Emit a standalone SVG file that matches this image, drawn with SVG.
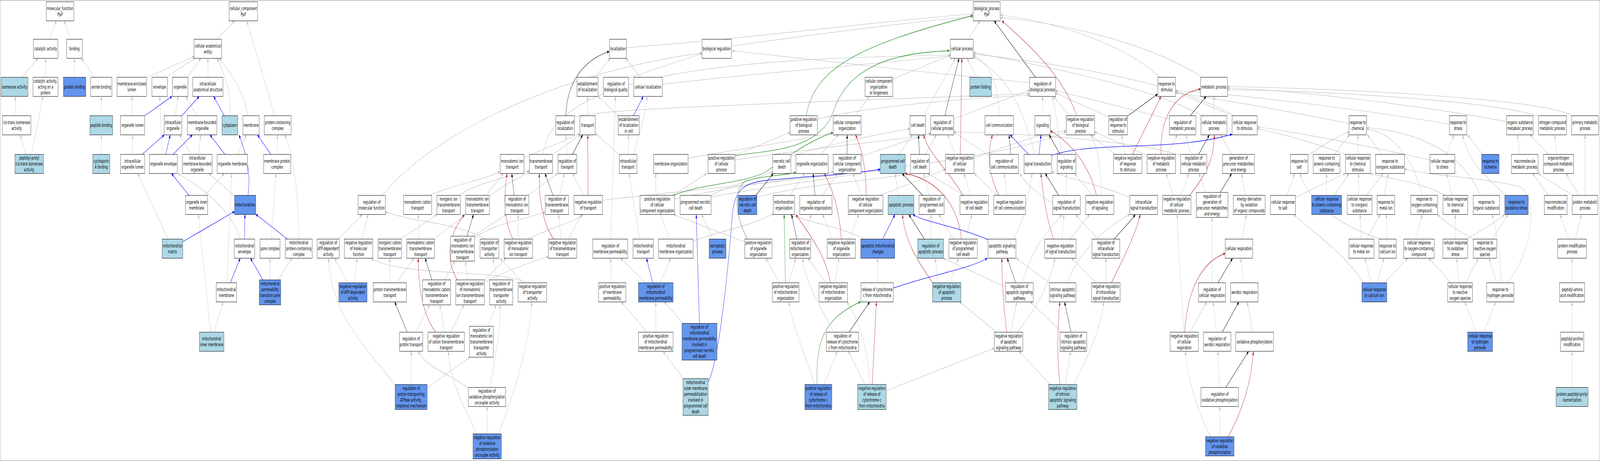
<svg xmlns="http://www.w3.org/2000/svg" width="7519" height="1181" viewBox="0 0 7519 1181" preserveAspectRatio="none">
<style>
svg{width:100vw;height:100vh}
rect{stroke:#000;stroke-width:1}
.w{fill:#fff}.l{fill:#add8e6}.c{fill:#6495ed}
text{font-family:"DejaVu Sans","Liberation Sans",sans-serif;font-size:13px;text-anchor:middle;fill:#000}
.e{fill:none;stroke:#c0c0c0;stroke-width:1.2;marker-end:url(#mg)}
.k{fill:none;stroke:#000;stroke-width:1.2;marker-end:url(#mk)}
.r{fill:none;stroke:#b22222;stroke-width:1.3;marker-end:url(#mr)}
.b{fill:none;stroke:#0000ff;stroke-width:1.3;marker-end:url(#mb)}
.g{fill:none;stroke:#228b22;stroke-width:1.3;marker-end:url(#mgr)}
</style>
<defs>
<marker id="mg" markerWidth="10" markerHeight="8" refX="9.5" refY="4" orient="auto" markerUnits="userSpaceOnUse"><path d="M0,0L10,4L0,8z" fill="#c0c0c0"/></marker>
<marker id="mk" markerWidth="10" markerHeight="8" refX="9.5" refY="4" orient="auto" markerUnits="userSpaceOnUse"><path d="M0,0L10,4L0,8z" fill="#000"/></marker>
<marker id="mr" markerWidth="10" markerHeight="8" refX="9.5" refY="4" orient="auto" markerUnits="userSpaceOnUse"><path d="M0,0L10,4L0,8z" fill="#b22222"/></marker>
<marker id="mb" markerWidth="10" markerHeight="8" refX="9.5" refY="4" orient="auto" markerUnits="userSpaceOnUse"><path d="M0,0L10,4L0,8z" fill="#0000ff"/></marker>
<marker id="mgr" markerWidth="10" markerHeight="8" refX="9.5" refY="4" orient="auto" markerUnits="userSpaceOnUse"><path d="M0,0L10,4L0,8z" fill="#228b22"/></marker>
</defs>
<rect x="0" y="0" width="7519" height="1181" fill="#fff" stroke="none"/>
<g id="connectors">
<path class="e" d="M232,100.5L265,53.5"/>
<path class="e" d="M332,100.5L302,53.5"/>
<path class="e" d="M104,198L178,149.5"/>
<path class="e" d="M214.5,198L214.5,149.5"/>
<path class="e" d="M350,198L350,149.5"/>
<path class="e" d="M444,198L384,149.5"/>
<path class="e" d="M75,296.5L71,247"/>
<path class="e" d="M476,296.5L476,247"/>
<path class="e" d="M122,395.5L95,345.5"/>
<path class="e" d="M148,395.5L202,247"/>
<path class="e" d="M476,395.5L476,345.5"/>
<path class="e" d="M1019,100.5L1102,53.5"/>
<path class="e" d="M1291,296.5L1160,53.5"/>
<path class="e" d="M691,198L913,144"/>
<path class="e" d="M782,198L916,149"/>
<path class="e" d="M880,198L944,149.5"/>
<path class="e" d="M977,198L977,149.5"/>
<path class="e" d="M1081,296.5C1085,230 1050,180 1019,149.5"/>
<path class="e" d="M1165,296.5C1140,220 1070,180 1029,149.5"/>
<path class="e" d="M622,296.5L620,247"/>
<path class="e" d="M822,296.5L838,247"/>
<path class="e" d="M924,296.5L874,247"/>
<path class="e" d="M623,395.5L623,345.5"/>
<path class="e" d="M762,395.5L751,247"/>
<path class="e" d="M898,395.5L844,345.5"/>
<path class="e" d="M932,395.5L943,345.5"/>
<path class="e" d="M1115,395.5L1157,345.5"/>
<path class="e" d="M1303,395.5L1304.5,345.5"/>
<path class="e" d="M1099,500.5L982,444.5"/>
<path class="e" d="M963,500.5L1053,444.5"/>
<path class="e" d="M790,612.5L647,444.5"/>
<path class="e" d="M1129,612.5C1090,540 950,480 836,444.5"/>
<path class="e" d="M1066,724.5L1089,444.5"/>
<path class="e" d="M1006,851L1049,773.5"/>
<path class="e" d="M990,851L932,549.5"/>
<path class="e" d="M1269,717L1269,661.5"/>
<path class="e" d="M1308,717L1372,661.5"/>
<path class="e" d="M1274,612.5L1297,444.5"/>
<path class="e" d="M1406,612.5C1400,480 1380,400 1338,345.5"/>
<path class="e" d="M1797,500.5C2100,300 2800,170 3298,136"/>
<path class="e" d="M1589,612.5L1702,549.5"/>
<path class="e" d="M1700,612.5L1730,549.5"/>
<path class="e" d="M2280,612.5C2150,570 1950,570 1811,543"/>
<path class="e" d="M2470,724.5C2380,690 1900,710 1746,663"/>
<path class="e" d="M1633,724.5L1573,661.5"/>
<path class="e" d="M1665,724.5L1678,661.5"/>
<path class="e" d="M1884,612.5L2053,549.5"/>
<path class="e" d="M1970,612.5L1965,549.5"/>
<path class="e" d="M2040,612.5L2188,549.5"/>
<path class="e" d="M1832,724.5L1832,661.5"/>
<path class="e" d="M1864,724.5L1945,661.5"/>
<path class="e" d="M2089,717L2138,669"/>
<path class="e" d="M2199,717L2187,669"/>
<path class="e" d="M2277,717L2378,661.5"/>
<path class="e" d="M2277,722C2400,690 2500,670 2577,657"/>
<path class="e" d="M2228,612C2300,575 2450,565 2562,543"/>
<path class="e" d="M2222,605L2380,549.5"/>
<path class="e" d="M2338,717L2316,661.5"/>
<path class="e" d="M2460,724.5L2350,661.5"/>
<path class="e" d="M2435,612.5L2435,549.5"/>
<path class="e" d="M2480,612.5C2600,580 2700,570 2740,549.5"/>
<path class="e" d="M2482,500.5L2620,444.5"/>
<path class="e" d="M2018,500.5C2150,470 2280,460 2349,440"/>
<path class="e" d="M2283,500.5L2366,444.5"/>
<path class="e" d="M2300,502C2380,470 2440,455 2488,441"/>
<path class="e" d="M2158,500.5C2230,470 2380,455 2488,437"/>
<path class="e" d="M2463,405C2560,380 2660,360 2725,342"/>
<path class="e" d="M2598,395.5L2728,345"/>
<path class="e" d="M2552,395.5C2600,180 3500,150 4466,141"/>
<path class="e" d="M2665,395.5L2659,345.5"/>
<path class="e" d="M2701,300C2800,280 3400,270 4838,240"/>
<path class="e" d="M2761,296.5L2761,247"/>
<path class="e" d="M2905,296.5L2812,247"/>
<path class="e" d="M2953,395.5L2953,345.5"/>
<path class="e" d="M2908,395.5L2798,342"/>
<path class="e" d="M2979,395.5C3010,330 3035,290 3041,247"/>
<path class="e" d="M2797,198L2867,149.5"/>
<path class="e" d="M3009,198L2942,149.5"/>
<path class="e" d="M2954,200L3299,137"/>
<path class="e" d="M2944,122C3500,100 4200,50 4574,36"/>
<path class="e" d="M3437,118C3800,90 4300,55 4574,42"/>
<path class="e" d="M3112,216C3500,190 4000,170 4466,143"/>
<path class="e" d="M2630,500.5L2652,444.5"/>
<path class="e" d="M2742,500.5L2691,444.5"/>
<path class="e" d="M2831,513C3500,470 4700,420 5010,337"/>
<path class="e" d="M2637.6,612.5L2624,549.5"/>
<path class="e" d="M2670,612.5L2733.5,549.5"/>
<path class="e" d="M1953,851L2020,781"/>
<path class="e" d="M2088.6,851L2067,781"/>
<path class="e" d="M2119,851L2180,781"/>
<path class="e" d="M2293.5,836L2332,781"/>
<path class="e" d="M1856,985C1700,880 1555,800 1544,661.5"/>
<path class="e" d="M1933,985L1933,900"/>
<path class="e" d="M2008,994L2208,915"/>
<path class="e" d="M2201,994C2120,960 2000,940 1965,900"/>
<path class="e" d="M2303,992.5C2330,900 2352,850 2350,781"/>
<path class="e" d="M2289.5,1111.5L2289.5,1041.5"/>
<path class="e" d="M2241,1111.5C2180,1040 2115,980 2107,900"/>
<path class="e" d="M2342,1111.5C2420,1000 2490,880 2499,773.5"/>
<path class="e" d="M3234,405C3500,380 3750,360 3915,340"/>
<path class="e" d="M3454,398L3713,339"/>
<path class="e" d="M3454,410C3800,380 4200,360 4374,344"/>
<path class="e" d="M3163,500.5L3321,444.5"/>
<path class="e" d="M3170,510C3500,470 3800,455 3915.5,440"/>
<path class="e" d="M3150,612.5C3110,570 3070,500 3083,444.5"/>
<path class="e" d="M3257,617C3400,590 3550,575 3636,547"/>
<path class="e" d="M3349,612.5L3298,549.5"/>
<path class="e" d="M3341,500.5C3450,470 3550,460 3631,440"/>
<path class="e" d="M3330,505C3700,470 4000,450 4137,437"/>
<path class="e" d="M3557,505C3800,470 4150,460 4281,444.5"/>
<path class="e" d="M3712,500.5L3781,444.5"/>
<path class="e" d="M3500,620L3165,549.5"/>
<path class="e" d="M3662.6,724.5L3598.6,661.5"/>
<path class="e" d="M3708,724.5L3739,661.5"/>
<path class="e" d="M3006,612.5L2956,444.5"/>
<path class="e" d="M3033,724.5L2917,661.5"/>
<path class="e" d="M3102,724.5L3152,661.5"/>
<path class="e" d="M2874.5,724.5L2869.6,661.5"/>
<path class="e" d="M3041,851L2920,773.5"/>
<path class="e" d="M3082,851L3082,773.5"/>
<path class="e" d="M3210,828.5L3122,773.5"/>
<path class="e" d="M3210,970L3116,900"/>
<path class="e" d="M2870,612.5L2892,247"/>
<path class="e" d="M4060,612.5C3950,580 3800,570 3712,549.5"/>
<path class="e" d="M4550.5,100.5L4605.6,53.5"/>
<path class="e" d="M5450,198C5300,120 5000,60 4702,38"/>
<path class="e" d="M5650,198C5400,110 5000,60 4702,45"/>
<path class="e" d="M4195.7,203L4466,141"/>
<path class="e" d="M4590,198L4545,149.5"/>
<path class="e" d="M4019,296.5L4085,247"/>
<path class="e" d="M4340,296.5L4490,149.5"/>
<path class="e" d="M4481.6,305L4838,231"/>
<path class="e" d="M4696,296.5C4690,200 4640,160 4574,142"/>
<path class="e" d="M4899.6,296.5L4899.6,247"/>
<path class="e" d="M4862,395.5C4800,250 4700,180 4574,146"/>
<path class="e" d="M5025,296.5L4952,247"/>
<path class="e" d="M5210,300L4961,238"/>
<path class="e" d="M5495,305L4961,232"/>
<path class="e" d="M3841,305C4100,270 4600,250 4838,244"/>
<path class="e" d="M5705,296.5L5705,247"/>
<path class="e" d="M5792,297L5525,235"/>
<path class="e" d="M5790,395.5L5736,345.5"/>
<path class="e" d="M5596,395.5L5573,345.5"/>
<path class="e" d="M5484,395.5L5533,345.5"/>
<path class="e" d="M5391,398L5144.4,338"/>
<path class="e" d="M5288,395.5L5270,345.5"/>
<path class="e" d="M5240,395.5L5125,345.5"/>
<path class="e" d="M4990,395.5C4975,330 4960,290 4945,247"/>
<path class="e" d="M5132,500.5L5051,444.5"/>
<path class="e" d="M5173,500.5C5178,440 5160,380 5128,345.5"/>
<path class="e" d="M5012,500.5L5012,444.5"/>
<path class="e" d="M4990,612.5L5000,549.5"/>
<path class="e" d="M5030,612.5L5120,549.5"/>
<path class="e" d="M5157,612.5C5130,590 5080,570 5055,549.5"/>
<path class="e" d="M5197,724.5L5197,661.5"/>
<path class="e" d="M5150,724.5L5036,661.5"/>
<path class="e" d="M5309,505C5150,470 5000,455 4942,440"/>
<path class="e" d="M5017,724.5C5060,650 5200,580 5309,549.5"/>
<path class="e" d="M4931,724.5L4776,661.5"/>
<path class="e" d="M4990,851L4842,773.5"/>
<path class="e" d="M5006,985L5031,900"/>
<path class="e" d="M5047,985C5120,900 5170,850 5187,773.5"/>
<path class="e" d="M4935,985L4789,900"/>
<path class="e" d="M4682.5,851L4510,773.5"/>
<path class="e" d="M4751,851L4777.7,773.5"/>
<path class="e" d="M4781,851C4870,790 4940,720 4957,661.5"/>
<path class="e" d="M4725,735L4433,661.5"/>
<path class="e" d="M4806,724.5C4850,630 4930,590 4990,549.5"/>
<path class="e" d="M4410,724.5L4394,661.5"/>
<path class="e" d="M4466,724.5L4504,661.5"/>
<path class="e" d="M4123,724.5L4124,661.5"/>
<path class="e" d="M3919,851C3850,780 3780,720 3773,661.5"/>
<path class="e" d="M3872,985L3935,900"/>
<path class="e" d="M3827,985C3780,900 3720,830 3708,773.5"/>
<path class="e" d="M4064,985L3987,900"/>
<path class="e" d="M4090,985C4075,900 4050,830 3980,773.5"/>
<path class="e" d="M4164,1001L4672,892"/>
<path class="e" d="M3922.7,724.5L3943,661.5"/>
<path class="e" d="M3882,724.5L3797,661.5"/>
<path class="e" d="M3777,612.5L3813,549.5"/>
<path class="e" d="M3910,612.5L3866,549.5"/>
<path class="e" d="M3992,612.5L4036,549.5"/>
<path class="e" d="M3866,500.5L3935,444.5"/>
<path class="e" d="M4048,500.5L4008,444.5"/>
<path class="e" d="M4137,500.5L4443,434"/>
<path class="e" d="M4046.7,400L4374,340"/>
<path class="e" d="M3856,395.5L3939,345.5"/>
<path class="e" d="M4225,395.5L4288,345.5"/>
<path class="e" d="M4348,395.5L4400,345.5"/>
<path class="e" d="M4490,395.5L4453,345.5"/>
<path class="e" d="M4577,405C4750,370 4900,340 5010,335"/>
<path class="e" d="M4652.6,400L4482,338"/>
<path class="e" d="M4225,500.5L4206,444.5"/>
<path class="e" d="M4366,500.5L4340,444.5"/>
<path class="e" d="M4530,500.5L4360,444.5"/>
<path class="e" d="M4562,500.5L4530,444.5"/>
<path class="e" d="M4373,612.5L4376,549.5"/>
<path class="e" d="M4480,612.5L4413,549.5"/>
<path class="e" d="M4538,612.5L4567,549.5"/>
<path class="e" d="M4762,612.5C4800,580 4830,520 4850,444.5"/>
<path class="e" d="M4730,500.5L4720,444.5"/>
<path class="e" d="M4684,500.5L4579,444.5"/>
<path class="e" d="M4946,520C4880,500 4820,470 4793,444.5"/>
<path class="e" d="M5513,500.5L5480,444.5"/>
<path class="e" d="M5549,500.5L5586,444.5"/>
<path class="e" d="M5669,493L5634,444.5"/>
<path class="e" d="M5853,500.5L5835,444.5"/>
<path class="e" d="M5837,612.5L5857,549.5"/>
<path class="e" d="M5695,724.5L5695,557"/>
<path class="e" d="M5842.6,724.5L5830.5,661.5"/>
<path class="e" d="M5592,851L5671,773.5"/>
<path class="e" d="M5562,851C5555,750 5535,650 5533,549.5"/>
<path class="e" d="M5715.5,851L5701.6,773.5"/>
<path class="e" d="M5887,851L5861,773.5"/>
<path class="e" d="M5730,992.5L5723.5,900"/>
<path class="e" d="M5732,1119L5732,1041.5"/>
<path class="e" d="M5691,1119C5620,1050 5580,960 5571,900"/>
<path class="e" d="M5800,296.5C5500,200 4900,160 4574,138"/>
<path class="e" d="M5650,296.5C5400,220 4900,170 4574,134"/>
<path class="e" d="M6339,316C6000,280 5700,250 5525,238"/>
<path class="e" d="M6810,318C6400,280 5800,240 5525,232"/>
<path class="e" d="M7080,312C6800,280 6100,230 5768,226"/>
<path class="e" d="M7230,298C7000,255 6100,230 5768,230"/>
<path class="e" d="M7390,297C7250,250 6200,225 5768,222"/>
<path class="e" d="M7142,395.5L7131,345.5"/>
<path class="e" d="M7278,395.5L7190,345.5"/>
<path class="e" d="M7316,395.5L7306,345.5"/>
<path class="e" d="M7449,500.5L7449,345.5"/>
<path class="e" d="M7392,500.5L7228,444.5"/>
<path class="e" d="M7420,500.5L7360,444.5"/>
<path class="e" d="M7277,500.5L7202,444.5"/>
<path class="e" d="M7371,612.5L7331,549.5"/>
<path class="e" d="M7403,612.5L7432,549.5"/>
<path class="e" d="M7387.8,724.5L7387.8,661.5"/>
<path class="e" d="M7387.8,851L7387.8,773.5"/>
<path class="e" d="M7387.8,992.5L7387.8,900"/>
<path class="e" d="M6381,395.5L6381,345.5"/>
<path class="e" d="M6323,396C6150,360 6000,340 5908,330"/>
<path class="e" d="M6720,410C6400,370 6100,340 5908,325"/>
<path class="e" d="M6797,395.5L6833,345.5"/>
<path class="e" d="M6271.5,395.5L6341,345.5"/>
<path class="e" d="M6494,395.5L6425,345.5"/>
<path class="e" d="M6147,398C6220,370 6300,345 6339,338"/>
<path class="e" d="M6967,395.5L6896.5,345.5"/>
<path class="e" d="M6957,500.5C6880,400 6700,340 6423,327"/>
<path class="e" d="M7075,500.5C7000,460 6900,420 6873,345.5"/>
<path class="e" d="M6684,500.5C6650,420 6560,340 6423,331"/>
<path class="e" d="M6385,500.5L6385,444.5"/>
<path class="e" d="M6423,500.5L6499,444.5"/>
<path class="e" d="M6269,500.5L6339,444.5"/>
<path class="e" d="M6233.6,500.5L6233.6,444.5"/>
<path class="e" d="M6047.6,500.5L6084,444.5"/>
<path class="e" d="M6088,507C6180,480 6260,460 6322.5,444.5"/>
<path class="e" d="M6410,724.5C6300,640 6180,600 6080,549.5"/>
<path class="e" d="M6490,612.5C6300,580 6150,520 6110,444.5"/>
<path class="e" d="M6505,500.5L6525,444.5"/>
<path class="e" d="M6824,500.5L6797,444.5"/>
<path class="e" d="M6789,500.5C6700,470 6550,460 6439.5,444.5"/>
<path class="e" d="M6839,612.5L6839,549.5"/>
<path class="e" d="M6894,612.5C6960,590 7030,570 7070,549.5"/>
<path class="e" d="M7012,612.5L7087,549.5"/>
<path class="e" d="M6923,612.5C6850,590 6790,570 6756,549.5"/>
<path class="e" d="M6651.7,612.5L6684,549.5"/>
<path class="e" d="M6395,612.5L6392,549.5"/>
<path class="e" d="M6421,612.5L6486,549.5"/>
<path class="e" d="M6518,612.5L6515,549.5"/>
<path class="e" d="M6444,724.5L6414.5,661.5"/>
<path class="e" d="M6473,724.5L6503,661.5"/>
<path class="e" d="M6504.5,724.5L6616,661.5"/>
<path class="e" d="M6818,724.5L6715,661.5"/>
<path class="e" d="M6856,724.5L6846,661.5"/>
<path class="e" d="M6888,724.5L6947,661.5"/>
<path class="e" d="M7034,724.5L6997.5,661.5"/>
<path class="e" d="M7054,724.5C7054,650 7030,590 7012,549.5"/>
<path class="e" d="M7082,724.5C7200,650 7230,520 7150,480C7000,455 6700,450 6600,433"/>
<path class="e" d="M6937,851L6884,773.5"/>
<path class="e" d="M6974,851L7028.6,773.5"/>
<path class="e" d="M3717,400C3900,370 4150,340 4276,330"/>
<path class="e" d="M4838,212C4400,190 3800,150 3442,130"/>
<path class="e" d="M5548,398C5300,355 4700,340 4482,338"/>
<path class="k" d="M2030,717L1998,661.5"/>
<path class="k" d="M2194.6,605L2225,549.5"/>
<path class="k" d="M2416,500.5L2405,444.5"/>
<path class="k" d="M2690,395.5L2738,345.5"/>
<path class="k" d="M2659,296.5C2665,200 2760,150 2863,132"/>
<path class="k" d="M2599,500.5L2561,444.5"/>
<path class="k" d="M1913,851L1855,773.5"/>
<path class="k" d="M3551.6,500.5L3634,444.5"/>
<path class="k" d="M3744.5,612.5L3720,549.5"/>
<path class="k" d="M4866,198L4672,53.5"/>
<path class="k" d="M4440,296.5L4507,149.5"/>
<path class="k" d="M5300,297L5440,241"/>
<path class="k" d="M5594,296.5L5668,247"/>
<path class="k" d="M5633,395.5L5683,345.5"/>
<path class="k" d="M4982,395.5L4930,345.5"/>
<path class="k" d="M4975,500.5L4912,444.5"/>
<path class="k" d="M5236,612.5C5270,590 5310,570 5335,549.5"/>
<path class="k" d="M5033,851L5002.6,773.5"/>
<path class="k" d="M4773.6,724.5L4733,661.5"/>
<path class="k" d="M3990,851L4087,773.5"/>
<path class="k" d="M3830,500.5L3821.5,444.5"/>
<path class="k" d="M3981,395.5L3981,345.5"/>
<path class="k" d="M4321,395.5L4316,345.5"/>
<path class="k" d="M4750,395.5L4742,345.5"/>
<path class="k" d="M4336,500.5L4240,444.5"/>
<path class="k" d="M4344,612.5L4271,549.5"/>
<path class="k" d="M5734,493L5788,444.5"/>
<path class="k" d="M5723.5,724.5L5792.4,661.5"/>
<path class="k" d="M5743.8,851L5822,773.5"/>
<path class="k" d="M5760,992.5L5867.7,900"/>
<path class="r" d="M2148,717C2090,660 2110,600 2182,549.5"/>
<path class="r" d="M2410,612.5C2380,580 2360,520 2383,444.5"/>
<path class="r" d="M2763.5,500.5L2762,345.5"/>
<path class="r" d="M2601.5,612.5C2560,580 2530,520 2535,444.5"/>
<path class="r" d="M2046.6,851C1980,800 1965,720 1965.5,661.5"/>
<path class="r" d="M3902.5,724.5C3880,650 3790,590 3740,549.5"/>
<path class="r" d="M5060,296.5C5000,200 4850,120 4708,53.5"/>
<path class="r" d="M4513,395.5L4520,149.5"/>
<path class="r" d="M5322,395.5L5456,247"/>
<path class="r" d="M5456,395.5C5450,300 5520,240 5642.5,228"/>
<path class="r" d="M5152,500.5C5130,440 5050,370 4936,335"/>
<path class="r" d="M4950,612.5C4920,560 4900,500 4892,444.5"/>
<path class="r" d="M5223,724.5C5280,660 5330,610 5359,549.5"/>
<path class="r" d="M4982,985C4965,920 4970,830 4981,773.5"/>
<path class="r" d="M4731,851C4715,780 4708,720 4708,661.5"/>
<path class="r" d="M4383,724.5C4300,660 4250,610 4241,549.5"/>
<path class="r" d="M4099,985L4118.7,773.5"/>
<path class="r" d="M3953,612.5C3950,560 3920,490 3874,444.5"/>
<path class="r" d="M4071,500.5C4070,430 4050,380 4020,345.5"/>
<path class="r" d="M4525,500.5C4450,430 4370,400 4340,345.5"/>
<path class="r" d="M4518,612.5C4500,520 4400,460 4254,444.5"/>
<path class="r" d="M4694,500.5C4640,440 4640,390 4664,345.5"/>
<path class="r" d="M5590,500.5C5680,440 5705,400 5707,345.5"/>
<path class="r" d="M5567,851C5580,740 5650,670 5758,649"/>
<path class="r" d="M5772,1119C5840,1050 5880,980 5890,900"/>
<path class="b" d="M680,296.5L808,247"/>
<path class="b" d="M854,296.5L936,247"/>
<path class="b" d="M1054,296.5L1004,247"/>
<path class="b" d="M668,395.5L772,345.5"/>
<path class="b" d="M779,395.5L800,345.5"/>
<path class="b" d="M813,395.5L904,345.5"/>
<path class="b" d="M1057,395.5L987,345.5"/>
<path class="b" d="M1273,395.5L1210,345.5"/>
<path class="b" d="M1165,500.5C1185,430 1140,370 1123,345.5"/>
<path class="b" d="M888,500.5L806,444.5"/>
<path class="b" d="M859,619L1102,542"/>
<path class="b" d="M1149,612.5L1151,549.5"/>
<path class="b" d="M1082,724.5L1129,661.5"/>
<path class="b" d="M1235,717L1177,661.5"/>
<path class="b" d="M1351,612.5L1202,549"/>
<path class="b" d="M2977,296.5L3023,247"/>
<path class="b" d="M3287,828.5L3272,549.5"/>
<path class="b" d="M3068,724.5L3038,661.5"/>
<path class="b" d="M3329,978C3380,920 3420,700 3440,560C3450,480 3500,470 3600,462C3800,452 4000,446 4137,434"/>
<path class="b" d="M4198,738C4400,700 4550,690 4640,661.5"/>
<path class="b" d="M4833,395.5L4747,345.5"/>
<path class="b" d="M4883,395.5L4892,345.5"/>
<path class="b" d="M4942,398C5150,360 5500,390 5790,344"/>
<path class="b" d="M4644,614C4500,580 4350,570 4290,549.5"/>
<path class="b" d="M4148,612.5L4206,549.5"/>
<path class="g" d="M3454,398C3650,385 3860,380 3920,280C3990,170 4200,135 4462,130"/>
<path class="g" d="M3163,500.5C3300,470 3500,470 3600,440C3750,380 3850,350 3915,340"/>
<path class="g" d="M3513,612.5C3460,560 3440,490 3500,465C3580,450 3680,450 3740,442"/>
<path class="g" d="M3691,724.5L3685,549.5"/>
<path class="g" d="M3787.5,296.5C3830,180 4000,120 4571,40"/>
<path class="g" d="M3840,985C3835,880 3860,820 4044,773"/>
</g>
<g id="n1"><rect class="w" x="217" y="4.5" width="130" height="49"/><text x="282" y="26">molecular_function<tspan x="282" dy="15">Ppif</tspan></text></g>
<g id="n2"><rect class="w" x="1077" y="4.5" width="133" height="49"/><text x="1143.5" y="26">cellular_component<tspan x="1143.5" dy="15">Ppif</tspan></text></g>
<g id="n3"><rect class="w" x="4574" y="4.5" width="126" height="49"/><text x="4637" y="26">biological_process<tspan x="4637" dy="15">Ppif</tspan></text></g>
<g id="n4"><rect class="w" x="157" y="100.5" width="115" height="49"/><text x="214.5" y="129.5">catalytic activity</text></g>
<g id="n5"><rect class="w" x="313.5" y="100.5" width="73" height="49"/><text x="350" y="129.5">binding</text></g>
<g id="n6"><rect class="w" x="912" y="100.5" width="130" height="49"/><text x="977" y="122">cellular anatomical<tspan x="977" dy="15">entity</tspan></text></g>
<g id="n7"><rect class="w" x="2864" y="100.5" width="80" height="49"/><text x="2904" y="129.5">localization</text></g>
<g id="n8"><rect class="w" x="3299" y="100.5" width="138" height="49"/><text x="3368" y="129.5">biological regulation</text></g>
<g id="n9"><rect class="w" x="4466" y="100.5" width="108" height="49"/><text x="4520" y="129.5">cellular process</text></g>
<g id="n10"><rect class="l" x="5" y="198" width="126" height="49"/><text x="68" y="227">isomerase activity</text></g>
<g id="n11"><rect class="w" x="155" y="198" width="118" height="49"/><text x="214" y="212">catalytic activity,<tspan x="214" dy="15">acting on a</tspan><tspan x="214" dy="15">protein</tspan></text></g>
<g id="n12"><rect class="c" x="298" y="198" width="105" height="49"/><text x="350.5" y="227">protein binding</text></g>
<g id="n13"><rect class="w" x="426" y="198" width="100" height="49"/><text x="476" y="227">amide binding</text></g>
<g id="n14"><rect class="w" x="550" y="198" width="139" height="49"/><text x="619.5" y="219.5">membrane-enclosed<tspan x="619.5" dy="15">lumen</tspan></text></g>
<g id="n15"><rect class="w" x="714" y="198" width="72" height="49"/><text x="750" y="227">envelope</text></g>
<g id="n16"><rect class="w" x="810" y="198" width="73" height="49"/><text x="846.5" y="227">organelle</text></g>
<g id="n17"><rect class="w" x="906" y="198" width="142" height="49"/><text x="977" y="219.5">intracellular<tspan x="977" dy="15">anatomical structure</tspan></text></g>
<g id="n18"><rect class="w" x="2711.5" y="198" width="99" height="49"/><text x="2761" y="219.5">establishment<tspan x="2761" dy="15">of localization</tspan></text></g>
<g id="n19"><rect class="w" x="2835.7" y="198" width="118" height="49"/><text x="2894.7" y="219.5">regulation of<tspan x="2894.7" dy="15">biological quality</tspan></text></g>
<g id="n20"><rect class="w" x="2978" y="198" width="134" height="49"/><text x="3045" y="227">cellular localization</text></g>
<g id="n21"><rect class="w" x="4065" y="198" width="130" height="49"/><text x="4130" y="212">cellular component<tspan x="4130" dy="15">organization</tspan><tspan x="4130" dy="15">or biogenesis</tspan></text></g>
<g id="n22"><rect class="l" x="4557" y="198" width="102" height="49"/><text x="4608" y="227">protein folding</text></g>
<g id="n23"><rect class="w" x="4838" y="198" width="123" height="49"/><text x="4899.5" y="219.5">regulation of<tspan x="4899.5" dy="15">biological process</tspan></text></g>
<g id="n24"><rect class="w" x="5441" y="198" width="83" height="49"/><text x="5482.5" y="219.5">response to<tspan x="5482.5" dy="15">stimulus</tspan></text></g>
<g id="n25"><rect class="w" x="5642.5" y="198" width="125.5" height="49"/><text x="5705" y="227">metabolic process</text></g>
<g id="n26"><rect class="w" x="11" y="296.5" width="134" height="49"/><text x="78" y="318">cis-trans isomerase<tspan x="78" dy="15">activity</tspan></text></g>
<g id="n27"><rect class="l" x="422.5" y="296.5" width="107" height="49"/><text x="476" y="325.5">peptide binding</text></g>
<g id="n28"><rect class="w" x="566.5" y="296.5" width="113" height="49"/><text x="623" y="325.5">organelle lumen</text></g>
<g id="n29"><rect class="w" x="771.5" y="296.5" width="83" height="49"/><text x="813" y="318">intracellular<tspan x="813" dy="15">organelle</tspan></text></g>
<g id="n30"><rect class="w" x="880" y="296.5" width="139" height="49"/><text x="949.5" y="318">membrane-bounded<tspan x="949.5" dy="15">organelle</tspan></text></g>
<g id="n31"><rect class="l" x="1043" y="296.5" width="74" height="49"/><text x="1080" y="325.5">cytoplasm</text></g>
<g id="n32"><rect class="w" x="1141.5" y="296.5" width="77" height="49"/><text x="1180" y="325.5">membrane</text></g>
<g id="n33"><rect class="w" x="1242" y="296.5" width="126" height="49"/><text x="1305" y="318">protein-containing<tspan x="1305" dy="15">complex</tspan></text></g>
<g id="n34"><rect class="w" x="2612" y="296.5" width="88" height="49"/><text x="2656" y="318">regulation of<tspan x="2656" dy="15">localization</tspan></text></g>
<g id="n35"><rect class="w" x="2725.5" y="296.5" width="72" height="49"/><text x="2761.5" y="325.5">transport</text></g>
<g id="n36"><rect class="w" x="2905" y="296.5" width="99" height="49"/><text x="2954.5" y="310.5">establishment<tspan x="2954.5" dy="15">of localization</tspan><tspan x="2954.5" dy="15">in cell</tspan></text></g>
<g id="n37"><rect class="w" x="3713" y="296.5" width="128" height="49"/><text x="3777" y="310.5">positive regulation<tspan x="3777" dy="15">of biological</tspan><tspan x="3777" dy="15">process</tspan></text></g>
<g id="n38"><rect class="w" x="3915.5" y="296.5" width="131" height="49"/><text x="3981" y="318">cellular component<tspan x="3981" dy="15">organization</tspan></text></g>
<g id="n39"><rect class="w" x="4276.5" y="296.5" width="73" height="49"/><text x="4313" y="325.5">cell death</text></g>
<g id="n40"><rect class="w" x="4374" y="296.5" width="108" height="49"/><text x="4428" y="318">regulation of<tspan x="4428" dy="15">cellular process</tspan></text></g>
<g id="n41"><rect class="w" x="4629" y="296.5" width="134" height="49"/><text x="4696" y="325.5">cell communication</text></g>
<g id="n42"><rect class="w" x="4863" y="296.5" width="73" height="49"/><text x="4899.5" y="325.5">signaling</text></g>
<g id="n43"><rect class="w" x="5011" y="296.5" width="133" height="49"/><text x="5077.5" y="310.5">negative regulation<tspan x="5077.5" dy="15">of biological</tspan><tspan x="5077.5" dy="15">process</tspan></text></g>
<g id="n44"><rect class="w" x="5210" y="296.5" width="89" height="49"/><text x="5254.5" y="310.5">regulation of<tspan x="5254.5" dy="15">response to</tspan><tspan x="5254.5" dy="15">stimulus</tspan></text></g>
<g id="n45"><rect class="w" x="5495" y="296.5" width="125" height="49"/><text x="5557.5" y="318">regulation of<tspan x="5557.5" dy="15">metabolic process</tspan></text></g>
<g id="n46"><rect class="w" x="5644" y="296.5" width="122" height="49"/><text x="5705" y="318">cellular metabolic<tspan x="5705" dy="15">process</tspan></text></g>
<g id="n47"><rect class="w" x="5790" y="296.5" width="118" height="49"/><text x="5849" y="318">cellular response<tspan x="5849" dy="15">to stimulus</tspan></text></g>
<g id="n48"><rect class="w" x="6339.5" y="296.5" width="83" height="49"/><text x="6381" y="318">response to<tspan x="6381" dy="15">chemical</tspan></text></g>
<g id="n49"><rect class="w" x="6811" y="296.5" width="82" height="49"/><text x="6852" y="318">response to<tspan x="6852" dy="15">stress</tspan></text></g>
<g id="n50"><rect class="w" x="7080" y="296.5" width="125" height="49"/><text x="7142.5" y="318">organic substance<tspan x="7142.5" dy="15">metabolic process</tspan></text></g>
<g id="n51"><rect class="w" x="7230.5" y="296.5" width="131" height="49"/><text x="7296" y="318">nitrogen compound<tspan x="7296" dy="15">metabolic process</tspan></text></g>
<g id="n52"><rect class="w" x="7386" y="296.5" width="126" height="49"/><text x="7449" y="318">primary metabolic<tspan x="7449" dy="15">process</tspan></text></g>
<g id="n53"><rect class="l" x="70" y="395.5" width="134" height="49"/><text x="137" y="409.5">peptidyl-prolyl<tspan x="137" dy="15">cis-trans isomerase</tspan><tspan x="137" dy="15">activity</tspan></text></g>
<g id="n54"><rect class="l" x="436" y="395.5" width="80" height="49"/><text x="476" y="417">cyclosporin<tspan x="476" dy="15">A binding</tspan></text></g>
<g id="n55"><rect class="w" x="566.5" y="395.5" width="113" height="49"/><text x="623" y="417">intracellular<tspan x="623" dy="15">organelle lumen</tspan></text></g>
<g id="n56"><rect class="w" x="702.5" y="395.5" width="131" height="49"/><text x="768" y="424.5">organelle envelope</text></g>
<g id="n57"><rect class="w" x="857" y="395.5" width="140" height="49"/><text x="927" y="409.5">intracellular<tspan x="927" dy="15">membrane-bounded</tspan><tspan x="927" dy="15">organelle</tspan></text></g>
<g id="n58"><rect class="w" x="1020.5" y="395.5" width="143" height="49"/><text x="1092" y="424.5">organelle membrane</text></g>
<g id="n59"><rect class="w" x="1239" y="395.5" width="127" height="49"/><text x="1302.5" y="417">membrane protein<tspan x="1302.5" dy="15">complex</tspan></text></g>
<g id="n60"><rect class="w" x="2351" y="395.5" width="112" height="49"/><text x="2407" y="417">monoatomic ion<tspan x="2407" dy="15">transport</tspan></text></g>
<g id="n61"><rect class="w" x="2488" y="395.5" width="109" height="49"/><text x="2542.5" y="417">transmembrane<tspan x="2542.5" dy="15">transport</tspan></text></g>
<g id="n62"><rect class="w" x="2622" y="395.5" width="88" height="49"/><text x="2666" y="417">regulation of<tspan x="2666" dy="15">transport</tspan></text></g>
<g id="n63"><rect class="w" x="2910" y="395.5" width="83" height="49"/><text x="2951.5" y="417">intracellular<tspan x="2951.5" dy="15">transport</tspan></text></g>
<g id="n64"><rect class="w" x="3072" y="395.5" width="162" height="49"/><text x="3153" y="424.5">membrane organization</text></g>
<g id="n65"><rect class="w" x="3327" y="395.5" width="127" height="49"/><text x="3390.5" y="409.5">positive regulation<tspan x="3390.5" dy="15">of cellular</tspan><tspan x="3390.5" dy="15">process</tspan></text></g>
<g id="n66"><rect class="w" x="3631" y="395.5" width="86" height="49"/><text x="3674" y="417">necrotic cell<tspan x="3674" dy="15">death</tspan></text></g>
<g id="n67"><rect class="w" x="3740" y="395.5" width="152" height="49"/><text x="3816" y="424.5">organelle organization</text></g>
<g id="n68"><rect class="w" x="3915.5" y="395.5" width="131" height="49"/><text x="3981" y="409.5">regulation of<tspan x="3981" dy="15">cellular component</tspan><tspan x="3981" dy="15">organization</tspan></text></g>
<g id="n69"><rect class="l" x="4137" y="395.5" width="117" height="49"/><text x="4195.5" y="417">programmed cell<tspan x="4195.5" dy="15">death</tspan></text></g>
<g id="n70"><rect class="w" x="4279" y="395.5" width="89" height="49"/><text x="4323.5" y="417">regulation of<tspan x="4323.5" dy="15">cell death</tspan></text></g>
<g id="n71"><rect class="w" x="4443" y="395.5" width="134" height="49"/><text x="4510" y="409.5">negative regulation<tspan x="4510" dy="15">of cellular</tspan><tspan x="4510" dy="15">process</tspan></text></g>
<g id="n72"><rect class="w" x="4652" y="395.5" width="134" height="49"/><text x="4719" y="417">regulation of<tspan x="4719" dy="15">cell communication</tspan></text></g>
<g id="n73"><rect class="w" x="4812" y="395.5" width="130" height="49"/><text x="4877" y="424.5">signal transduction</text></g>
<g id="n74"><rect class="w" x="4968" y="395.5" width="88" height="49"/><text x="5012" y="417">regulation of<tspan x="5012" dy="15">signaling</tspan></text></g>
<g id="n75"><rect class="w" x="5233" y="395.5" width="134" height="49"/><text x="5300" y="409.5">negative regulation<tspan x="5300" dy="15">of response</tspan><tspan x="5300" dy="15">to stimulus</tspan></text></g>
<g id="n76"><rect class="w" x="5390" y="395.5" width="134" height="49"/><text x="5457" y="409.5">negative regulation<tspan x="5457" dy="15">of metabolic</tspan><tspan x="5457" dy="15">process</tspan></text></g>
<g id="n77"><rect class="w" x="5548" y="395.5" width="123" height="49"/><text x="5609.5" y="409.5">regulation of<tspan x="5609.5" dy="15">cellular metabolic</tspan><tspan x="5609.5" dy="15">process</tspan></text></g>
<g id="n78"><rect class="w" x="5745" y="395.5" width="150" height="49"/><text x="5820" y="409.5">generation of<tspan x="5820" dy="15">precursor metabolites</tspan><tspan x="5820" dy="15">and energy</tspan></text></g>
<g id="n79"><rect class="w" x="6064" y="395.5" width="83" height="49"/><text x="6105.5" y="417">response to<tspan x="6105.5" dy="15">salt</tspan></text></g>
<g id="n80"><rect class="w" x="6171.5" y="395.5" width="126" height="49"/><text x="6234.5" y="409.5">response to<tspan x="6234.5" dy="15">arsenic-containing</tspan><tspan x="6234.5" dy="15">substance</tspan></text></g>
<g id="n81"><rect class="w" x="6322.5" y="395.5" width="117" height="49"/><text x="6381" y="409.5">cellular response<tspan x="6381" dy="15">to chemical</tspan><tspan x="6381" dy="15">stimulus</tspan></text></g>
<g id="n82"><rect class="w" x="6464" y="395.5" width="136" height="49"/><text x="6532" y="417">response to<tspan x="6532" dy="15">inorganic substance</tspan></text></g>
<g id="n83"><rect class="w" x="6720" y="395.5" width="117" height="49"/><text x="6778.5" y="417">cellular response<tspan x="6778.5" dy="15">to stress</tspan></text></g>
<g id="n84"><rect class="c" x="6963" y="395.5" width="82" height="49"/><text x="7004" y="417">response to<tspan x="7004" dy="15">ischemia</tspan></text></g>
<g id="n85"><rect class="w" x="7102.5" y="395.5" width="125" height="49"/><text x="7165" y="417">macromolecule<tspan x="7165" dy="15">metabolic process</tspan></text></g>
<g id="n86"><rect class="w" x="7253" y="395.5" width="142" height="49"/><text x="7324" y="409.5">organonitrogen<tspan x="7324" dy="15">compound metabolic</tspan><tspan x="7324" dy="15">process</tspan></text></g>
<g id="n87"><rect class="w" x="872" y="500.5" width="104" height="49"/><text x="924" y="522">organelle inner<tspan x="924" dy="15">membrane</tspan></text></g>
<g id="n88"><rect class="c" x="1102" y="500.5" width="100" height="49"/><text x="1152" y="529.5">mitochondrion</text></g>
<g id="n89"><rect class="w" x="1683" y="500.5" width="128" height="49"/><text x="1747" y="522">regulation of<tspan x="1747" dy="15">molecular function</tspan></text></g>
<g id="n90"><rect class="w" x="1896.5" y="500.5" width="132" height="49"/><text x="1962.5" y="522">monoatomic cation<tspan x="1962.5" dy="15">transport</tspan></text></g>
<g id="n91"><rect class="w" x="2053" y="500.5" width="110" height="49"/><text x="2108" y="514.5">inorganic ion<tspan x="2108" dy="15">transmembrane</tspan><tspan x="2108" dy="15">transport</tspan></text></g>
<g id="n92"><rect class="w" x="2188" y="500.5" width="112" height="49"/><text x="2244" y="514.5">monoatomic ion<tspan x="2244" dy="15">transmembrane</tspan><tspan x="2244" dy="15">transport</tspan></text></g>
<g id="n93"><rect class="w" x="2373.5" y="500.5" width="112" height="49"/><text x="2429.5" y="514.5">regulation of<tspan x="2429.5" dy="15">monoatomic ion</tspan><tspan x="2429.5" dy="15">transport</tspan></text></g>
<g id="n94"><rect class="w" x="2562.5" y="500.5" width="109" height="49"/><text x="2617" y="514.5">regulation of<tspan x="2617" dy="15">transmembrane</tspan><tspan x="2617" dy="15">transport</tspan></text></g>
<g id="n95"><rect class="w" x="2697" y="500.5" width="134" height="49"/><text x="2764" y="522">negative regulation<tspan x="2764" dy="15">of transport</tspan></text></g>
<g id="n96"><rect class="w" x="3008" y="500.5" width="162" height="49"/><text x="3089" y="514.5">positive regulation<tspan x="3089" dy="15">of cellular</tspan><tspan x="3089" dy="15">component organization</tspan></text></g>
<g id="n97"><rect class="w" x="3196" y="500.5" width="146" height="49"/><text x="3269" y="522">programmed necrotic<tspan x="3269" dy="15">cell death</tspan></text></g>
<g id="n98"><rect class="c" x="3469" y="500.5" width="88" height="49"/><text x="3513" y="514.5">regulation of<tspan x="3513" dy="15">necrotic cell</tspan><tspan x="3513" dy="15">death</tspan></text></g>
<g id="n99"><rect class="w" x="3634" y="500.5" width="100" height="49"/><text x="3684" y="522">mitochondrion<tspan x="3684" dy="15">organization</tspan></text></g>
<g id="n100"><rect class="w" x="3758" y="500.5" width="152" height="49"/><text x="3834" y="522">regulation of<tspan x="3834" dy="15">organelle organization</tspan></text></g>
<g id="n101"><rect class="w" x="3986" y="500.5" width="164" height="49"/><text x="4068" y="514.5">negative regulation<tspan x="4068" dy="15">of cellular</tspan><tspan x="4068" dy="15">component organization</tspan></text></g>
<g id="n102"><rect class="l" x="4174" y="500.5" width="121" height="49"/><text x="4234.5" y="529.5">apoptotic process</text></g>
<g id="n103"><rect class="w" x="4319" y="500.5" width="118" height="49"/><text x="4378" y="514.5">regulation of<tspan x="4378" dy="15">programmed cell</tspan><tspan x="4378" dy="15">death</tspan></text></g>
<g id="n104"><rect class="w" x="4511" y="500.5" width="134" height="49"/><text x="4578" y="522">negative regulation<tspan x="4578" dy="15">of cell death</tspan></text></g>
<g id="n105"><rect class="w" x="4670" y="500.5" width="150" height="49"/><text x="4745" y="522">negative regulation<tspan x="4745" dy="15">of cell communication</tspan></text></g>
<g id="n106"><rect class="w" x="4947" y="500.5" width="130" height="49"/><text x="5012" y="522">regulation of<tspan x="5012" dy="15">signal transduction</tspan></text></g>
<g id="n107"><rect class="w" x="5101.5" y="500.5" width="133" height="49"/><text x="5168" y="522">negative regulation<tspan x="5168" dy="15">of signaling</tspan></text></g>
<g id="n108"><rect class="w" x="5309" y="500.5" width="131" height="49"/><text x="5374.5" y="522">intracellular<tspan x="5374.5" dy="15">signal transduction</tspan></text></g>
<g id="n109"><rect class="w" x="5463" y="500.5" width="134" height="49"/><text x="5530" y="514.5">negative regulation<tspan x="5530" dy="15">of cellular</tspan><tspan x="5530" dy="15">metabolic process</tspan></text></g>
<g id="n110"><rect class="w" x="5621.5" y="493" width="149" height="64"/><text x="5696" y="507">regulation of<tspan x="5696" dy="15">generation of</tspan><tspan x="5696" dy="15">precursor metabolites</tspan><tspan x="5696" dy="15">and energy</tspan></text></g>
<g id="n111"><rect class="w" x="5795.5" y="500.5" width="150" height="49"/><text x="5870.5" y="514.5">energy derivation<tspan x="5870.5" dy="15">by oxidation</tspan><tspan x="5870.5" dy="15">of organic compounds</tspan></text></g>
<g id="n112"><rect class="w" x="5970" y="500.5" width="118" height="49"/><text x="6029" y="522">cellular response<tspan x="6029" dy="15">to salt</tspan></text></g>
<g id="n113"><rect class="c" x="6164" y="500.5" width="141" height="49"/><text x="6234.5" y="514.5">cellular response<tspan x="6234.5" dy="15">to arsenic-containing</tspan><tspan x="6234.5" dy="15">substance</tspan></text></g>
<g id="n114"><rect class="w" x="6331" y="500.5" width="117" height="49"/><text x="6389.5" y="514.5">cellular response<tspan x="6389.5" dy="15">to inorganic</tspan><tspan x="6389.5" dy="15">substance</tspan></text></g>
<g id="n115"><rect class="w" x="6472" y="500.5" width="82" height="49"/><text x="6513" y="522">response to<tspan x="6513" dy="15">metal ion</tspan></text></g>
<g id="n116"><rect class="w" x="6630" y="500.5" width="126" height="49"/><text x="6693" y="514.5">response to<tspan x="6693" dy="15">oxygen-containing</tspan><tspan x="6693" dy="15">compound</tspan></text></g>
<g id="n117"><rect class="w" x="6781" y="500.5" width="117" height="49"/><text x="6839.5" y="514.5">cellular response<tspan x="6839.5" dy="15">to chemical</tspan><tspan x="6839.5" dy="15">stress</tspan></text></g>
<g id="n118"><rect class="w" x="6923" y="500.5" width="124" height="49"/><text x="6985" y="522">response to<tspan x="6985" dy="15">organic substance</tspan></text></g>
<g id="n119"><rect class="c" x="7071.5" y="500.5" width="110" height="49"/><text x="7126.5" y="522">response to<tspan x="7126.5" dy="15">oxidative stress</tspan></text></g>
<g id="n120"><rect class="w" x="7257.5" y="500.5" width="107" height="49"/><text x="7311" y="522">macromolecule<tspan x="7311" dy="15">modification</tspan></text></g>
<g id="n121"><rect class="w" x="7388.5" y="500.5" width="121" height="49"/><text x="7449" y="522">protein metabolic<tspan x="7449" dy="15">process</tspan></text></g>
<g id="n122"><rect class="l" x="762" y="612.5" width="97" height="49"/><text x="810.5" y="634">mitochondrial<tspan x="810.5" dy="15">matrix</tspan></text></g>
<g id="n123"><rect class="w" x="1101" y="612.5" width="96" height="49"/><text x="1149" y="634">mitochondrial<tspan x="1149" dy="15">envelope</tspan></text></g>
<g id="n124"><rect class="w" x="1222" y="612.5" width="94" height="49"/><text x="1269" y="641.5">pore complex</text></g>
<g id="n125"><rect class="w" x="1341" y="612.5" width="126" height="49"/><text x="1404" y="626.5">mitochondrial<tspan x="1404" dy="15">protein-containing</tspan><tspan x="1404" dy="15">complex</tspan></text></g>
<g id="n126"><rect class="w" x="1490.5" y="612.5" width="104" height="49"/><text x="1542.5" y="626.5">regulation of<tspan x="1542.5" dy="15">ATP-dependent</tspan><tspan x="1542.5" dy="15">activity</tspan></text></g>
<g id="n127"><rect class="w" x="1618.5" y="612.5" width="133" height="49"/><text x="1685" y="626.5">negative regulation<tspan x="1685" dy="15">of molecular</tspan><tspan x="1685" dy="15">function</tspan></text></g>
<g id="n128"><rect class="w" x="1777" y="612.5" width="110" height="49"/><text x="1832" y="626.5">inorganic cation<tspan x="1832" dy="15">transmembrane</tspan><tspan x="1832" dy="15">transport</tspan></text></g>
<g id="n129"><rect class="w" x="1912" y="612.5" width="130" height="49"/><text x="1977" y="626.5">monoatomic cation<tspan x="1977" dy="15">transmembrane</tspan><tspan x="1977" dy="15">transport</tspan></text></g>
<g id="n130"><rect class="w" x="2118" y="605" width="112" height="64"/><text x="2174" y="619">regulation of<tspan x="2174" dy="15">monoatomic ion</tspan><tspan x="2174" dy="15">transmembrane</tspan><tspan x="2174" dy="15">transport</tspan></text></g>
<g id="n131"><rect class="w" x="2256" y="612.5" width="88" height="49"/><text x="2300" y="626.5">regulation of<tspan x="2300" dy="15">transporter</tspan><tspan x="2300" dy="15">activity</tspan></text></g>
<g id="n132"><rect class="w" x="2368.5" y="612.5" width="134" height="49"/><text x="2435.5" y="626.5">negative regulation<tspan x="2435.5" dy="15">of monoatomic</tspan><tspan x="2435.5" dy="15">ion transport</tspan></text></g>
<g id="n133"><rect class="w" x="2577" y="612.5" width="133" height="49"/><text x="2643.5" y="626.5">negative regulation<tspan x="2643.5" dy="15">of transmembrane</tspan><tspan x="2643.5" dy="15">transport</tspan></text></g>
<g id="n134"><rect class="w" x="2786" y="612.5" width="164" height="49"/><text x="2868" y="634">regulation of<tspan x="2868" dy="15">membrane permeability</tspan></text></g>
<g id="n135"><rect class="w" x="2975" y="612.5" width="96" height="49"/><text x="3023" y="634">mitochondrial<tspan x="3023" dy="15">transport</tspan></text></g>
<g id="n136"><rect class="w" x="3094.5" y="612.5" width="163" height="49"/><text x="3176" y="634">mitochondrial<tspan x="3176" dy="15">membrane organization</tspan></text></g>
<g id="n137"><rect class="c" x="3332.5" y="612.5" width="79" height="49"/><text x="3372" y="634">necroptotic<tspan x="3372" dy="15">process</tspan></text></g>
<g id="n138"><rect class="w" x="3499.5" y="612.5" width="129" height="49"/><text x="3564" y="626.5">positive regulation<tspan x="3564" dy="15">of organelle</tspan><tspan x="3564" dy="15">organization</tspan></text></g>
<g id="n139"><rect class="w" x="3711" y="612.5" width="99" height="49"/><text x="3760.5" y="626.5">regulation of<tspan x="3760.5" dy="15">mitochondrion</tspan><tspan x="3760.5" dy="15">organization</tspan></text></g>
<g id="n140"><rect class="w" x="3887" y="612.5" width="133" height="49"/><text x="3953.5" y="626.5">negative regulation<tspan x="3953.5" dy="15">of organelle</tspan><tspan x="3953.5" dy="15">organization</tspan></text></g>
<g id="n141"><rect class="c" x="4045" y="612.5" width="160" height="49"/><text x="4125" y="634">apoptotic mitochondrial<tspan x="4125" dy="15">changes</tspan></text></g>
<g id="n142"><rect class="l" x="4313" y="612.5" width="121" height="49"/><text x="4373.5" y="634">regulation of<tspan x="4373.5" dy="15">apoptotic process</tspan></text></g>
<g id="n143"><rect class="w" x="4459" y="612.5" width="134" height="49"/><text x="4526" y="626.5">negative regulation<tspan x="4526" dy="15">of programmed</tspan><tspan x="4526" dy="15">cell death</tspan></text></g>
<g id="n144"><rect class="w" x="4643.5" y="612.5" width="131" height="49"/><text x="4709" y="634">apoptotic signaling<tspan x="4709" dy="15">pathway</tspan></text></g>
<g id="n145"><rect class="w" x="4910" y="612.5" width="147" height="49"/><text x="4983.5" y="634">negative regulation<tspan x="4983.5" dy="15">of signal transduction</tspan></text></g>
<g id="n146"><rect class="w" x="5131.5" y="612.5" width="131" height="49"/><text x="5197" y="626.5">regulation of<tspan x="5197" dy="15">intracellular</tspan><tspan x="5197" dy="15">signal transduction</tspan></text></g>
<g id="n147"><rect class="w" x="5758" y="612.5" width="129" height="49"/><text x="5822.5" y="641.5">cellular respiration</text></g>
<g id="n148"><rect class="w" x="6339" y="612.5" width="118" height="49"/><text x="6398" y="634">cellular response<tspan x="6398" dy="15">to metal ion</tspan></text></g>
<g id="n149"><rect class="w" x="6480" y="612.5" width="82" height="49"/><text x="6521" y="634">response to<tspan x="6521" dy="15">calcium ion</tspan></text></g>
<g id="n150"><rect class="w" x="6596" y="612.5" width="144" height="49"/><text x="6668" y="626.5">cellular response<tspan x="6668" dy="15">to oxygen-containing</tspan><tspan x="6668" dy="15">compound</tspan></text></g>
<g id="n151"><rect class="w" x="6781" y="612.5" width="117" height="49"/><text x="6839.5" y="626.5">cellular response<tspan x="6839.5" dy="15">to oxidative</tspan><tspan x="6839.5" dy="15">stress</tspan></text></g>
<g id="n152"><rect class="w" x="6923.5" y="612.5" width="110" height="49"/><text x="6978.5" y="626.5">response to<tspan x="6978.5" dy="15">reactive oxygen</tspan><tspan x="6978.5" dy="15">species</tspan></text></g>
<g id="n153"><rect class="w" x="7320" y="612.5" width="136" height="49"/><text x="7388" y="634">protein modification<tspan x="7388" dy="15">process</tspan></text></g>
<g id="n154"><rect class="w" x="1016" y="724.5" width="96" height="49"/><text x="1064" y="746">mitochondrial<tspan x="1064" dy="15">membrane</tspan></text></g>
<g id="n155"><rect class="c" x="1218.5" y="717" width="101" height="64"/><text x="1269" y="731">mitochondrial<tspan x="1269" dy="15">permeability</tspan><tspan x="1269" dy="15">transition pore</tspan><tspan x="1269" dy="15">complex</tspan></text></g>
<g id="n156"><rect class="c" x="1592" y="724.5" width="133" height="49"/><text x="1658.5" y="738.5">negative regulation<tspan x="1658.5" dy="15">of ATP-dependent</tspan><tspan x="1658.5" dy="15">activity</tspan></text></g>
<g id="n157"><rect class="w" x="1754" y="724.5" width="156" height="49"/><text x="1832" y="746">proton transmembrane<tspan x="1832" dy="15">transport</tspan></text></g>
<g id="n158"><rect class="w" x="1986" y="717" width="132" height="64"/><text x="2052" y="731">regulation of<tspan x="2052" dy="15">monoatomic cation</tspan><tspan x="2052" dy="15">transmembrane</tspan><tspan x="2052" dy="15">transport</tspan></text></g>
<g id="n159"><rect class="w" x="2142" y="717" width="134" height="64"/><text x="2209" y="731">negative regulation<tspan x="2209" dy="15">of monoatomic</tspan><tspan x="2209" dy="15">ion transmembrane</tspan><tspan x="2209" dy="15">transport</tspan></text></g>
<g id="n160"><rect class="w" x="2301" y="717" width="109" height="64"/><text x="2355.5" y="731">regulation of<tspan x="2355.5" dy="15">transmembrane</tspan><tspan x="2355.5" dy="15">transporter</tspan><tspan x="2355.5" dy="15">activity</tspan></text></g>
<g id="n161"><rect class="w" x="2435" y="724.5" width="134" height="49"/><text x="2502" y="738.5">negative regulation<tspan x="2502" dy="15">of transporter</tspan><tspan x="2502" dy="15">activity</tspan></text></g>
<g id="n162"><rect class="w" x="2813" y="724.5" width="128" height="49"/><text x="2877" y="738.5">positive regulation<tspan x="2877" dy="15">of membrane</tspan><tspan x="2877" dy="15">permeability</tspan></text></g>
<g id="n163"><rect class="c" x="3000" y="724.5" width="163" height="49"/><text x="3081.5" y="738.5">regulation of<tspan x="3081.5" dy="15">mitochondrial</tspan><tspan x="3081.5" dy="15">membrane permeability</tspan></text></g>
<g id="n164"><rect class="w" x="3629" y="724.5" width="126" height="49"/><text x="3692" y="738.5">positive regulation<tspan x="3692" dy="15">of mitochondrion</tspan><tspan x="3692" dy="15">organization</tspan></text></g>
<g id="n165"><rect class="w" x="3849" y="724.5" width="134" height="49"/><text x="3916" y="738.5">negative regulation<tspan x="3916" dy="15">of mitochondrion</tspan><tspan x="3916" dy="15">organization</tspan></text></g>
<g id="n166"><rect class="w" x="4046" y="724.5" width="152" height="49"/><text x="4122" y="746">release of cytochrome<tspan x="4122" dy="15">c from mitochondria</tspan></text></g>
<g id="n167"><rect class="l" x="4382.5" y="724.5" width="133" height="49"/><text x="4449" y="738.5">negative regulation<tspan x="4449" dy="15">of apoptotic</tspan><tspan x="4449" dy="15">process</tspan></text></g>
<g id="n168"><rect class="w" x="4725.5" y="724.5" width="130" height="49"/><text x="4790.5" y="738.5">regulation of<tspan x="4790.5" dy="15">apoptotic signaling</tspan><tspan x="4790.5" dy="15">pathway</tspan></text></g>
<g id="n169"><rect class="w" x="4931" y="724.5" width="125" height="49"/><text x="4993.5" y="746">intrinsic apoptotic<tspan x="4993.5" dy="15">signaling pathway</tspan></text></g>
<g id="n170"><rect class="w" x="5130" y="724.5" width="134" height="49"/><text x="5197" y="738.5">negative regulation<tspan x="5197" dy="15">of intracellular</tspan><tspan x="5197" dy="15">signal transduction</tspan></text></g>
<g id="n171"><rect class="w" x="5632" y="724.5" width="128" height="49"/><text x="5696" y="746">regulation of<tspan x="5696" dy="15">cellular respiration</tspan></text></g>
<g id="n172"><rect class="w" x="5783.5" y="724.5" width="129" height="49"/><text x="5848" y="753.5">aerobic respiration</text></g>
<g id="n173"><rect class="c" x="6400" y="724.5" width="117" height="49"/><text x="6458.5" y="746">cellular response<tspan x="6458.5" dy="15">to calcium ion</tspan></text></g>
<g id="n174"><rect class="w" x="6803" y="724.5" width="117" height="49"/><text x="6861.5" y="738.5">cellular response<tspan x="6861.5" dy="15">to reactive</tspan><tspan x="6861.5" dy="15">oxygen species</tspan></text></g>
<g id="n175"><rect class="w" x="6986.5" y="724.5" width="128" height="49"/><text x="7050.5" y="746">response to<tspan x="7050.5" dy="15">hydrogen peroxide</tspan></text></g>
<g id="n176"><rect class="w" x="7329" y="724.5" width="118" height="49"/><text x="7388" y="746">peptidyl-amino<tspan x="7388" dy="15">acid modification</tspan></text></g>
<g id="n177"><rect class="l" x="937" y="851" width="115" height="49"/><text x="994.5" y="872.5">mitochondrial<tspan x="994.5" dy="15">inner membrane</tspan></text></g>
<g id="n178"><rect class="w" x="1877.5" y="851" width="109" height="49"/><text x="1932" y="872.5">regulation of<tspan x="1932" dy="15">proton transport</tspan></text></g>
<g id="n179"><rect class="w" x="2011.5" y="851" width="171" height="49"/><text x="2097" y="865">negative regulation<tspan x="2097" dy="15">of cation transmembrane</tspan><tspan x="2097" dy="15">transport</tspan></text></g>
<g id="n180"><rect class="w" x="2206.5" y="836" width="112" height="79"/><text x="2262.5" y="850">regulation of<tspan x="2262.5" dy="15">monoatomic ion</tspan><tspan x="2262.5" dy="15">transmembrane</tspan><tspan x="2262.5" dy="15">transporter</tspan><tspan x="2262.5" dy="15">activity</tspan></text></g>
<g id="n181"><rect class="w" x="3000" y="851" width="163" height="49"/><text x="3081.5" y="865">positive regulation<tspan x="3081.5" dy="15">of mitochondrial</tspan><tspan x="3081.5" dy="15">membrane permeability</tspan></text></g>
<g id="n182"><rect class="c" x="3205" y="828.5" width="164" height="94"/><text x="3287" y="842.5">regulation of<tspan x="3287" dy="15">mitochondrial</tspan><tspan x="3287" dy="15">membrane permeability</tspan><tspan x="3287" dy="15">involved in</tspan><tspan x="3287" dy="15">programmed necrotic</tspan><tspan x="3287" dy="15">cell death</tspan></text></g>
<g id="n183"><rect class="w" x="3883" y="851" width="152" height="49"/><text x="3959" y="865">regulation of<tspan x="3959" dy="15">release of cytochrome</tspan><tspan x="3959" dy="15">c from mitochondria</tspan></text></g>
<g id="n184"><rect class="w" x="4673" y="851" width="134" height="49"/><text x="4740" y="865">negative regulation<tspan x="4740" dy="15">of apoptotic</tspan><tspan x="4740" dy="15">signaling pathway</tspan></text></g>
<g id="n185"><rect class="w" x="4981" y="851" width="126" height="49"/><text x="5044" y="865">regulation of<tspan x="5044" dy="15">intrinsic apoptotic</tspan><tspan x="5044" dy="15">signaling pathway</tspan></text></g>
<g id="n186"><rect class="w" x="5499" y="851" width="133" height="49"/><text x="5565.5" y="865">negative regulation<tspan x="5565.5" dy="15">of cellular</tspan><tspan x="5565.5" dy="15">respiration</tspan></text></g>
<g id="n187"><rect class="w" x="5655.5" y="851" width="129" height="49"/><text x="5720" y="872.5">regulation of<tspan x="5720" dy="15">aerobic respiration</tspan></text></g>
<g id="n188"><rect class="w" x="5807.5" y="851" width="177" height="49"/><text x="5896" y="880">oxidative phosphorylation</text></g>
<g id="n189"><rect class="c" x="6897" y="851" width="117" height="49"/><text x="6955.5" y="865">cellular response<tspan x="6955.5" dy="15">to hydrogen</tspan><tspan x="6955.5" dy="15">peroxide</tspan></text></g>
<g id="n190"><rect class="w" x="7333.5" y="851" width="109" height="49"/><text x="7388" y="872.5">peptidyl-proline<tspan x="7388" dy="15">modification</tspan></text></g>
<g id="n191"><rect class="c" x="1857" y="985" width="150" height="64"/><text x="1932" y="999">regulation of<tspan x="1932" dy="15">proton-transporting</tspan><tspan x="1932" dy="15">ATPase activity,</tspan><tspan x="1932" dy="15">rotational mechanism</tspan></text></g>
<g id="n192"><rect class="w" x="2201" y="992.5" width="175" height="49"/><text x="2288.5" y="1006.5">regulation of<tspan x="2288.5" dy="15">oxidative phosphorylation</tspan><tspan x="2288.5" dy="15">uncoupler activity</tspan></text></g>
<g id="n193"><rect class="l" x="3210" y="970" width="118" height="94"/><text x="3269" y="984">mitochondrial<tspan x="3269" dy="15">outer membrane</tspan><tspan x="3269" dy="15">permeabilization</tspan><tspan x="3269" dy="15">involved in</tspan><tspan x="3269" dy="15">programmed cell</tspan><tspan x="3269" dy="15">death</tspan></text></g>
<g id="n194"><rect class="c" x="3782" y="985" width="127" height="64"/><text x="3845.5" y="999">positive regulation<tspan x="3845.5" dy="15">of release of</tspan><tspan x="3845.5" dy="15">cytochrome c</tspan><tspan x="3845.5" dy="15">from mitochondria</tspan></text></g>
<g id="n195"><rect class="l" x="4030" y="985" width="134" height="64"/><text x="4097" y="999">negative regulation<tspan x="4097" dy="15">of release of</tspan><tspan x="4097" dy="15">cytochrome c</tspan><tspan x="4097" dy="15">from mitochondria</tspan></text></g>
<g id="n196"><rect class="l" x="4928" y="985" width="133" height="64"/><text x="4994.5" y="999">negative regulation<tspan x="4994.5" dy="15">of intrinsic</tspan><tspan x="4994.5" dy="15">apoptotic signaling</tspan><tspan x="4994.5" dy="15">pathway</tspan></text></g>
<g id="n197"><rect class="w" x="5644" y="992.5" width="176" height="49"/><text x="5732" y="1014">regulation of<tspan x="5732" dy="15">oxidative phosphorylation</tspan></text></g>
<g id="n198"><rect class="l" x="7313" y="992.5" width="150" height="49"/><text x="7388" y="1014">protein peptidyl-prolyl<tspan x="7388" dy="15">isomerization</tspan></text></g>
<g id="n199"><rect class="c" x="2223" y="1111.5" width="133" height="64"/><text x="2289.5" y="1125.5">negative regulation<tspan x="2289.5" dy="15">of oxidative</tspan><tspan x="2289.5" dy="15">phosphorylation</tspan><tspan x="2289.5" dy="15">uncoupler activity</tspan></text></g>
<g id="n200"><rect class="c" x="5665" y="1119" width="134" height="49"/><text x="5732" y="1133">negative regulation<tspan x="5732" dy="15">of oxidative</tspan><tspan x="5732" dy="15">phosphorylation</tspan></text></g>
</svg>
